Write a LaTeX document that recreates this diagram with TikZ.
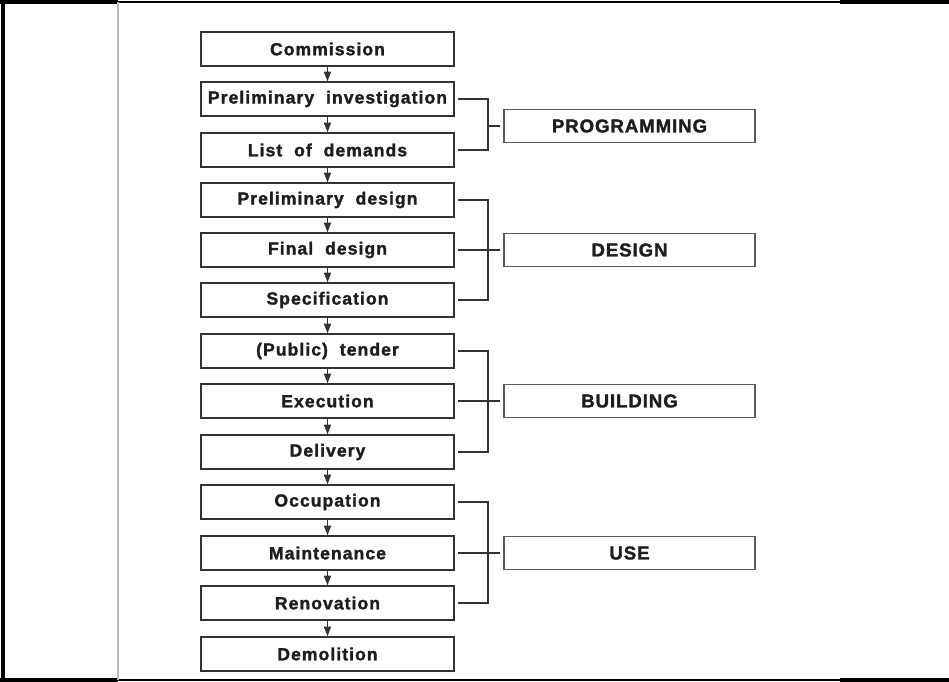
\documentclass[tikz,border=0pt]{standalone}
\usepackage{fontspec}
\usepackage{tikz}
\usetikzlibrary{arrows.meta, positioning, calc}
\newfontfamily\stepfont{Liberation Sans Bold}[LetterSpace=6, FakeBold=1.6]
\newfontfamily\phasefont{Liberation Sans Bold}[LetterSpace=5, FakeBold=1.6]
\definecolor{cline}{HTML}{333333}
\definecolor{ctext}{HTML}{1E1E1E}
\definecolor{cmargin}{HTML}{B8BDB8}

\begin{document}
\begin{tikzpicture}[x=0.02cm, y=-0.02cm,
  stepbox/.style={draw=cline, line width=0.8pt, minimum width=5.06cm, minimum height=0.68cm, inner sep=0pt, text=ctext, font=\stepfont\fontsize{10}{12}\selectfont},
  phasebox/.style={draw=cline!80, line width=0.8pt, minimum width=5.02cm, minimum height=0.66cm, inner sep=0pt, text=ctext, font=\phasefont\fontsize{10.6}{12}\selectfont},
  arr/.style={-{Triangle[length=5.5pt, width=4pt]}, cline, line width=0.9pt},
  brk/.style={cline, line width=0.7pt}
]
  \useasboundingbox (0,0) rectangle (949,681);
  % page frame
  \draw[line width=2pt] (0,2) -- (118,2);
  \draw[line width=1pt] (118,2) -- (840,2);
  \draw[line width=2pt] (840,2) -- (949,2);
  \draw[line width=2pt] (0,680) -- (118,680);
  \draw[line width=1pt] (118,680) -- (840,680);
  \draw[line width=2pt] (840,680) -- (949,680);
  \draw[line width=2pt] (3,1) -- (3,681);
  \draw[cmargin, line width=1.5pt] (118,2) -- (118,680);

  % process steps
  \node[stepbox] (comm) at (327.5, 49) {Commission};
  \node[stepbox] (prelinv) at (327.5, 99) {Preliminary\ \ investigation};
  \node[stepbox] (demands) at (327.5, 150) {List\ \ of\ \ demands};
  \node[stepbox] (prelds) at (327.5, 200) {Preliminary\ \ design};
  \node[stepbox] (finalds) at (327.5, 250) {Final\ \ design};
  \node[stepbox] (spec) at (327.5, 300) {Specification};
  \node[stepbox] (tender) at (327.5, 351) {(Public)\ \ tender};
  \node[stepbox] (exec) at (327.5, 401) {Execution};
  \node[stepbox] (deliv) at (327.5, 452) {Delivery};
  \node[stepbox] (occup) at (327.5, 502) {Occupation};
  \node[stepbox] (maint) at (327.5, 553) {Maintenance};
  \node[stepbox] (renov) at (327.5, 603) {Renovation};
  \node[stepbox] (demol) at (327.5, 654) {Demolition};

  % phases
  \node[phasebox] (prog) at (629.5, 126) {PROGRAMMING};
  \node[phasebox] (design) at (629.5, 250) {DESIGN};
  \node[phasebox] (build) at (629.5, 401) {BUILDING};
  \node[phasebox] (use) at (629.5, 553) {USE};

  \draw[arr] (comm) -- (prelinv);
  \draw[arr] (prelinv) -- (demands);
  \draw[arr] (demands) -- (prelds);
  \draw[arr] (prelds) -- (finalds);
  \draw[arr] (finalds) -- (spec);
  \draw[arr] (spec) -- (tender);
  \draw[arr] (tender) -- (exec);
  \draw[arr] (exec) -- (deliv);
  \draw[arr] (deliv) -- (occup);
  \draw[arr] (occup) -- (maint);
  \draw[arr] (maint) -- (renov);
  \draw[arr] (renov) -- (demol);

  % brackets
  \coordinate (progj) at (488, 126);
  \coordinate (desj) at (488, 300);
  \coordinate (buildj) at (488, 452);
  \coordinate (usej) at (488, 603);
  \draw[brk] ([xshift=2]prelinv.east) -| (progj) |- ([xshift=2]demands.east);
  \draw[brk] (progj) -- ([xshift=-2]prog.west);

  \draw[brk] ([xshift=2]prelds.east) -| (desj) -- ([xshift=2]spec.east);
  \draw[brk] ([xshift=2]finalds.east) -- ([xshift=-2]design.west);

  \draw[brk] ([xshift=2]tender.east) -| (buildj) -- ([xshift=2]deliv.east);
  \draw[brk] ([xshift=2]exec.east) -- ([xshift=-2]build.west);

  \draw[brk] ([xshift=2]occup.east) -| (usej) -- ([xshift=2]renov.east);
  \draw[brk] ([xshift=2]maint.east) -- ([xshift=-2]use.west);
\end{tikzpicture}
\end{document}
